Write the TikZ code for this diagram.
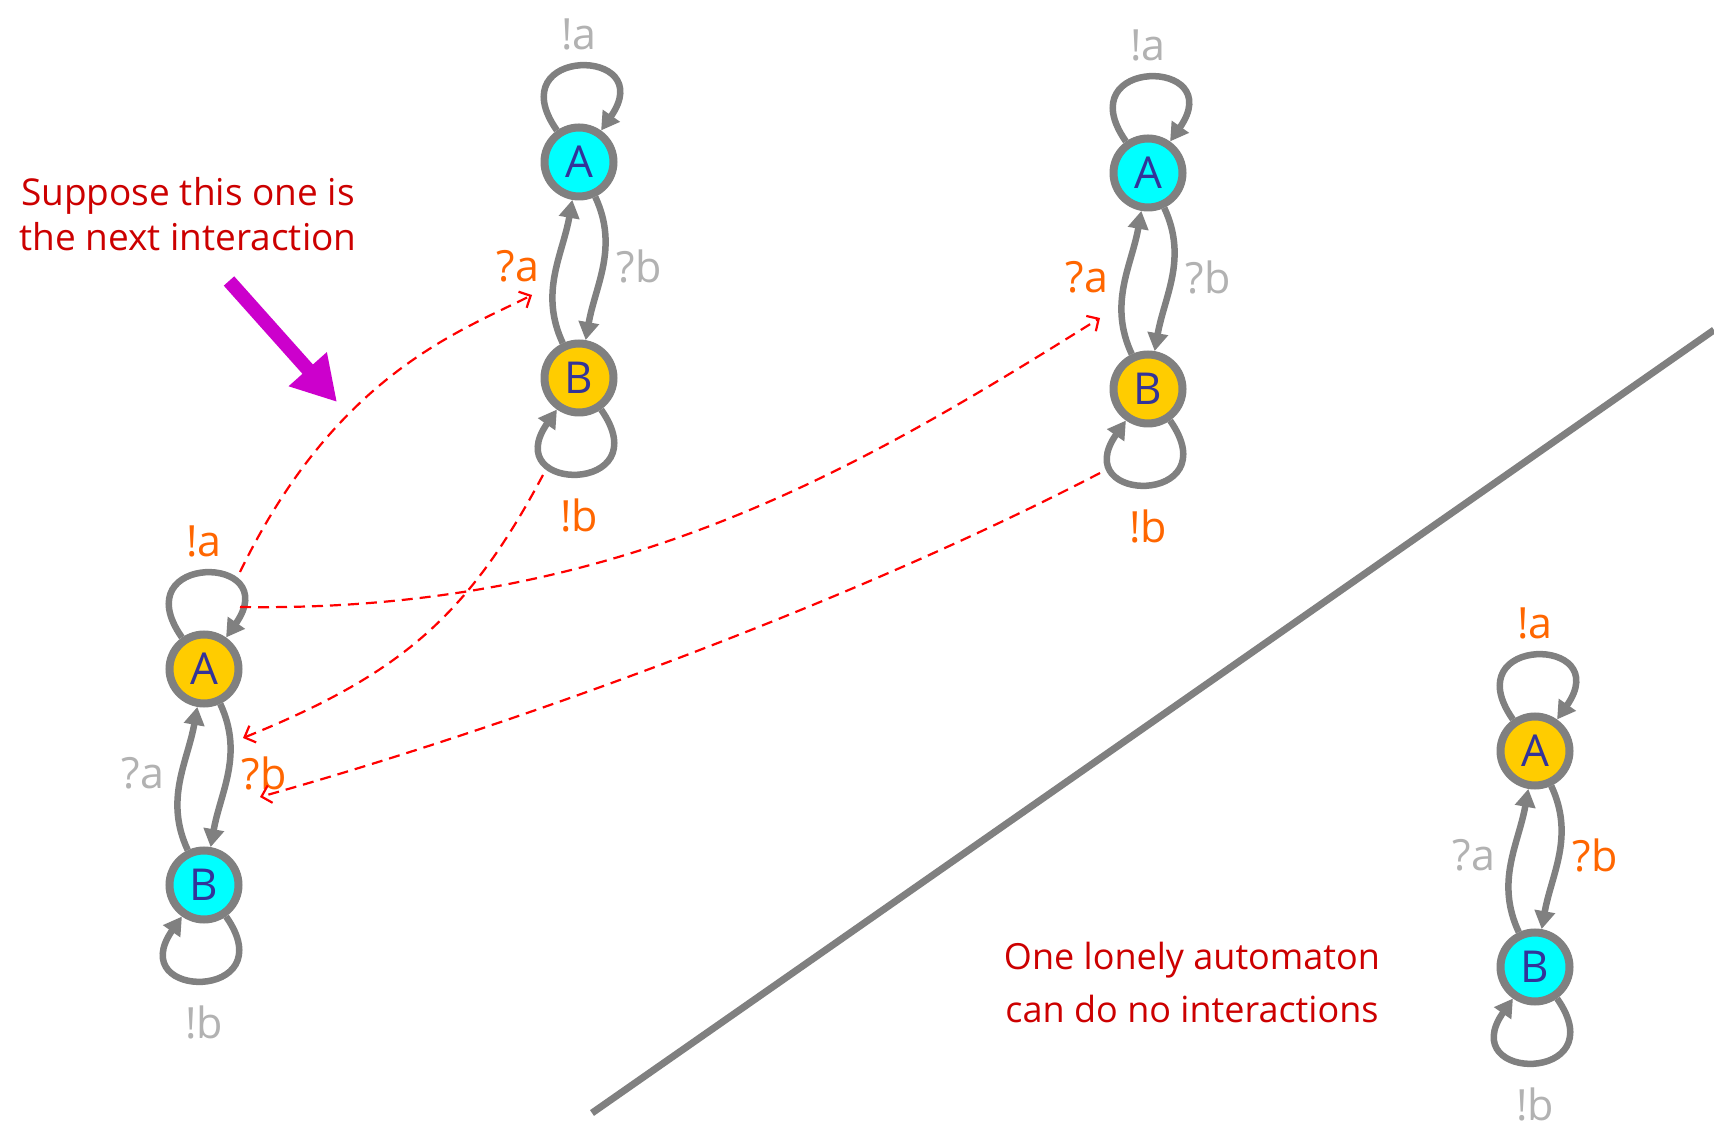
\documentclass[tikz,border=0pt]{standalone}
\usepackage{fontspec}
\setmainfont{Open Sans}
\usetikzlibrary{arrows.meta}
\definecolor{bordergray}{RGB}{128,128,128}
\definecolor{statecyan}{RGB}{0,255,255}
\definecolor{stategold}{RGB}{255,204,0}
\definecolor{letterblue}{RGB}{51,51,153}
\definecolor{actcol}{RGB}{255,102,0}
\definecolor{idlecol}{RGB}{178,178,178}
\definecolor{notecol}{RGB}{204,0,0}
\definecolor{pointcol}{RGB}{204,0,204}
\definecolor{linkcol}{RGB}{255,0,0}
\tikzset{
  autstate/.style={circle,draw=bordergray,line width=8pt,minimum size=69pt,inner sep=0pt,text=letterblue,font=\fontsize{44}{44}\selectfont},
  trans/.style={-{Triangle[length=18pt,width=20pt]},draw=bordergray,line width=6.5pt},
  translabel/.style={font=\fontsize{43}{43}\selectfont},
  link/.style={-{Straight Barb[length=9pt,width=18pt]},draw=linkcol,line width=2.2pt,dash pattern=on 11pt off 7pt},
  pointer/.style={-{Triangle[length=44pt,width=48pt]},draw=pointcol,line width=14pt},
  divider/.style={draw=bordergray,line width=7pt},
  note/.style={text=notecol,align=center,font=\fontsize{37}{45}\selectfont}
}

\begin{document}
\begin{tikzpicture}[x=1pt,y=1pt]
\useasboundingbox[fill=white] (0,0) rectangle (1714,1128);
% ---- the four two-state automata ----
\foreach \n/\x/\y/\fa/\fb/\ca/\cb in {L/204/459/stategold/statecyan/actcol/idlecol,
    M/579/966/statecyan/stategold/idlecol/actcol,
    R/1148/955/statecyan/stategold/idlecol/actcol,
    S/1535/377/stategold/statecyan/actcol/idlecol}{
  \node[autstate,fill=\fa] (\n-A) at (\x,\y) {A};
  \node[autstate,fill=\fb] (\n-B) at (\x,\y-216) {B};
  \draw[trans] (\n-A) to[out=-65,in=80] (\n-B);
  \draw[trans] (\n-B) to[out=115,in=-100] (\n-A);
  \draw[trans] (\n-A) to[out=125,in=55,looseness=6] (\n-A);
  \draw[trans] (\n-B) to[out=-55,in=-125,looseness=6] (\n-B);
  \node[translabel,text=\ca] (\n-xa) at (\x,\y+128) {!a};
  \node[translabel,text=\cb] (\n-qa) at (\x-61,\y-104) {?a};
  \node[translabel,text=\ca] (\n-qb) at (\x+60,\y-104) {?b};
  \node[translabel,text=\cb] (\n-xb) at (\x,\y-353) {!b};
}
% ---- matching send/receive pairs ----
\coordinate (la-top) at (240,556);
\coordinate (la-side) at (240,521);
\coordinate (mb-foot) at (543,653);
\coordinate (rb-foot) at (1100,655);
\coordinate (ma-in) at (532,833);
\coordinate (ra-in) at (1100,810);
\coordinate (lb-in1) at (243,390);
\coordinate (lb-in2) at (260,331);
\draw[link] (la-top) .. controls (336,754) and (461,797) .. (ma-in);
\draw[link] (la-side) .. controls (620,515) and (860,660) .. (ra-in);
\draw[link] (mb-foot) .. controls (468,512) and (401,454) .. (lb-in1);
\draw[link] (rb-foot) .. controls (850,525) and (510,401) .. (lb-in2);
% ---- remarks ----
\node[note] (hint) at (188,914) {Suppose this one is\\the next interaction};
\coordinate (hint-tail) at (229,847);
\coordinate (hint-tip) at (337,726);
\draw[pointer] (hint-tail) -- (hint-tip);
\coordinate (cut-lo) at (592,15);
\coordinate (cut-hi) at (1714,798);
\draw[divider] (cut-lo) -- (cut-hi);
\node[note,font=\fontsize{36}{53}\selectfont] (lonely) at (1192,146) {One lonely automaton\\can do no interactions};
\end{tikzpicture}
\end{document}
